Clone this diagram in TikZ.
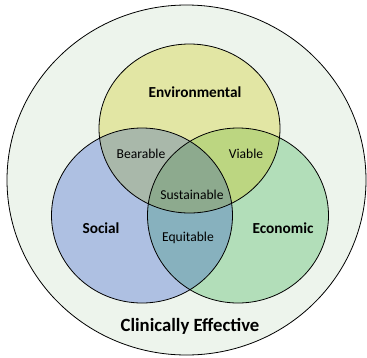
\documentclass[tikz,border=0pt]{standalone}
\usepackage{fontspec}
\setmainfont{Carlito}
\definecolor{outerc}{HTML}{EDF4EC}
\definecolor{envc}{HTML}{E2E6A4}
\definecolor{socc}{HTML}{AEC0E2}
\definecolor{ecoc}{HTML}{B2DEB9}
\definecolor{bearc}{HTML}{A9B8AA}
\definecolor{viac}{HTML}{BCD681}
\definecolor{susc}{HTML}{8DAA8E}
\definecolor{equc}{HTML}{87B1BE}
\tikzset{
  ring/.style={draw=black, line width=0.8pt},
  big/.style={font=\fontsize{15.3}{18}\selectfont\bfseries},
  small/.style={font=\fontsize{13.6}{16}\selectfont}
}
\begin{document}
\begin{tikzpicture}[x=1pt,y=-1pt]
\useasboundingbox (0,0) rectangle (367,357);
\def\envpath{(189.5,128.5) ellipse [x radius=90.5, y radius=84.5]}
\def\socpath{(142,215.5) ellipse [x radius=90.5, y radius=87.5]}
\def\ecopath{(238,215.5) ellipse [x radius=90.5, y radius=87.5]}
\fill[outerc] (186.5,180) ellipse [x radius=179.5, y radius=175];
\fill[envc] \envpath;
\fill[socc] \socpath;
\fill[ecoc] \ecopath;
\begin{scope}\clip \envpath; \fill[bearc] \socpath; \end{scope}
\begin{scope}\clip \envpath; \fill[viac] \ecopath; \end{scope}
\begin{scope}\clip \socpath; \fill[equc] \ecopath; \end{scope}
\begin{scope}\clip \envpath; \clip \socpath; \fill[susc] \ecopath; \end{scope}
\draw[ring] (186.5,180) ellipse [x radius=179.5, y radius=175];
\draw[ring] \envpath;
\draw[ring] \socpath;
\draw[ring] \ecopath;
\node[big] (env) at (195,92) {Environmental};
\node[big] (soc) at (101,228) {Social};
\node[big] (eco) at (283,228) {Economic};
\node[small] (bear) at (141,154) {Bearable};
\node[small] (via) at (246,154) {Viable};
\node[small] (sus) at (192,195) {Sustainable};
\node[small] (equ) at (188,238) {Equitable};
\node[font=\fontsize{18.7}{22}\selectfont\bfseries] (clin) at (190,326) {Clinically Effective};
\end{tikzpicture}
\end{document}
